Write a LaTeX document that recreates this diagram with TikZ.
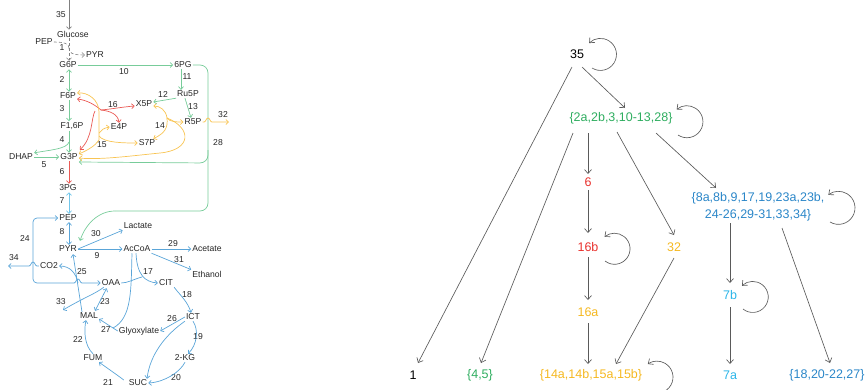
\documentclass[tikz,border=0pt]{standalone}
\usepackage{fontspec}
\setmainfont{Liberation Sans}
\usetikzlibrary{arrows.meta,calc}
\definecolor{lgreen}{HTML}{78CC9A}
\definecolor{lred}{HTML}{EA5A55}
\definecolor{lyel}{HTML}{F8C453}
\definecolor{lblue}{HTML}{5AA5D8}
\definecolor{lcyan}{HTML}{72C6EA}
\definecolor{lgrey}{HTML}{808080}
\definecolor{tgreen}{HTML}{2EAD5F}
\definecolor{tred}{HTML}{E8312D}
\definecolor{tyel}{HTML}{F5B820}
\definecolor{tblue}{HTML}{2A86C8}
\definecolor{tcyan}{HTML}{2BB5E8}
\definecolor{tedge}{HTML}{5A5A5A}
\tikzset{
  gy/.style={draw=lgrey,line width=0.6pt},
  gr/.style={draw=lgreen,line width=0.7pt},
  rd/.style={draw=lred,line width=0.7pt},
  yl/.style={draw=lyel,line width=0.7pt},
  bl/.style={draw=lblue,line width=0.7pt},
  cy/.style={draw=lcyan,line width=0.7pt},
  tn/.style={font=\fontsize{12.5}{16.5}\selectfont, inner sep=2pt, align=center},
  te/.style={draw=tedge, line width=0.65pt, ->},
}
\begin{document}
\begin{tikzpicture}[x=1pt,y=-1pt]
\useasboundingbox (0,0) rectangle (865,389);
\begin{scope}[>={Straight Barb[length=2.6pt,width=5pt]}, every node/.style={inner sep=1pt,font=\fontsize{8.6}{10}\selectfont,text=black!85}]
\node (glc) at (73,34) {Glucose};
\node (pep0) at (44,42) {PEP};
\node (l1) at (62,48) {1};
\node (pyr0) at (95,55) {PYR};
\node (l35) at (61,15) {35};
\node (g6p) at (68,65) {G6P};
\node (l10) at (124,72) {10};
\node (pg6) at (183,65) {6PG};
\node (l2) at (62,79) {2};
\node (f6p) at (68,96) {F6P};
\node (l3) at (62,109) {3};
\node (f16p) at (72,126) {F1,6P};
\node (l11) at (187,77) {11};
\node (ru5p) at (188,94) {Ru5P};
\node (l12) at (163,94) {12};
\node (x5p) at (144,104) {X5P};
\node (l13) at (193,107) {13};
\node (r5p) at (193,122) {R5P};
\node (l32) at (223,115) {32};
\node (l16) at (113,105) {16};
\node (e4p) at (119,127) {E4P};
\node (l14) at (160,126) {14};
\node (l4) at (62,140) {4};
\node (dhap) at (21,157) {DHAP};
\node (l5) at (44,165) {5};
\node (g3p) at (69,157) {G3P};
\node (l15) at (102,145) {15};
\node (s7p) at (147,143) {S7P};
\node (l28) at (218,143) {28};
\node (l6) at (62,172) {6};
\node (pg3) at (68,188) {3PG};
\node (l7) at (62,201) {7};
\node (pep1) at (68,218) {PEP};
\node (lac) at (138,226) {Lactate};
\node (l30) at (96,234) {30};
\node (l8) at (62,232) {8};
\node (l24) at (25,238) {24};
\node (pyr1) at (68,249) {PYR};
\node (l9) at (97,256) {9};
\node (accoa) at (137,249) {AcCoA};
\node (l29) at (173,244) {29};
\node (ace) at (207,249) {Acetate};
\node (l31) at (179,260) {31};
\node (eth) at (207,274) {Ethanol};
\node (l34) at (14,258) {34};
\node (co2) at (49,266) {CO2};
\node (l25) at (82,272) {25};
\node (l17) at (148,272) {17};
\node (oaa) at (111,283) {OAA};
\node (cit) at (166,283) {CIT};
\node (l18) at (187,295) {18};
\node (l33) at (61,302) {33};
\node (l23) at (105,302) {23};
\node (mal) at (89,316) {MAL};
\node (ict) at (193,317) {ICT};
\node (l26) at (172,319) {26};
\node (glx) at (139,331) {Glyoxylate};
\node (l27) at (106,329) {27};
\node (l19) at (198,337) {19};
\node (l22) at (78,339) {22};
\node (fum) at (93,358) {FUM};
\node (akg) at (185,358) {2-KG};
\node (l21) at (108,382) {21};
\node (suc) at (138,383) {SUC};
\node (l20) at (176,378) {20};
% grey
\coordinate (top35) at (69,0);
\coordinate (j1) at (69,48);
\draw[gy,->] (top35) -- (top35 |- glc.north);
\draw[gy,densely dashed,->] (glc.south -| top35) -- (g6p.north -| top35);
\draw[gy,densely dashed] (pep0.east) .. controls (65,42) and (69,44) .. (j1);
\draw[gy,densely dashed,->] (j1) .. controls (69,53) and (72,55) .. (pyr0.west);
% green
\draw[gr,<->] (g6p.south -| top35) -- (f6p.north -| top35);
\draw[gr,->] (f6p.south -| top35) -- (f16p.north -| top35);
\draw[gr,->] (g6p.east) -- (pg6.west);
\draw[gr,->] ([shift={(-2,0)}]pg6.south) -- ([shift={(-7,0)}]ru5p.north);
\draw[gr,->] (ru5p.south west) -- ([shift={(0,-2)}]x5p.east);
\draw[gr,->] ([shift={(-3,0)}]ru5p.south) -- ([shift={(-2,0)}]r5p.north);
\draw[gr,->] (f16p.south -| top35) -- (g3p.north -| top35);
\coordinate (j4) at (69,142);
\draw[gr,->] (j4) .. controls (67,149) and (50,150) .. (dhap.north east);
\draw[gr,->] (dhap.east) -- (g3p.west);
\coordinate (c28) at (115,211);
\coordinate (b28) at (208,150);
\draw[gr,rounded corners=8] (pg6.east) -- (208,65) -- (208,211) -- (c28);
\draw[gr,->] (c28) .. controls (98,211) and (85,225) .. ([shift={(2,-4)}]pyr1.north east);
\draw[gr,->,rounded corners=8] (b28) -- (208,163) -- ([shift={(0,5)}]g3p.east);
% red
\coordinate (r16) at (101,110);
\coordinate (r16d) at (95,111);
\draw[rd,->] (r16) .. controls (94,104) and (86,100) .. ([shift={(0,3)}]f6p.east);
\draw[rd,->] (r16) .. controls (112,109) and (122,107) .. ([shift={(0,2)}]x5p.west);
\draw[rd,->] (r16) .. controls (110,111) and (118,114) .. (e4p.north);
\draw[rd,->] (r16d) .. controls (91,118) and (93,138) .. ([shift={(1,-3)}]g3p.north east);
\draw[rd,->] (g3p.south -| top35) -- (pg3.north -| top35);
% yellow
\coordinate (yb) at (99,140);
\coordinate (ye) at (99,133);
\coordinate (ys) at (99,136);
\draw[yl,->] (yb) -- (99,112) .. controls (99,100) and (88,92) .. ([shift={(0,-3)}]f6p.east);
\draw[yl,->] (yb) .. controls (95,146) and (88,150) .. ([shift={(0,-3)}]g3p.east);
\draw[yl,->] (ye) .. controls (101,130) and (104,128) .. (e4p.west);
\draw[yl,->] (ys) .. controls (104,143) and (125,143) .. (s7p.west);
\coordinate (y14) at (167,118);
\draw[yl,->] (y14) .. controls (166,110) and (160,106) .. ([shift={(0,2)}]x5p.east);
\draw[yl,->] (y14) .. controls (170,122) and (176,122) .. (r5p.west);
\draw[yl,->] (y14) .. controls (168,128) and (165,133) .. ([shift={(-3,0)}]s7p.north east);
\draw[yl,->] (y14) .. controls (192,128) and (192,150) .. (160,153) .. controls (130,156) and (100,160) .. ([shift={(0,1)}]g3p.east);
\coordinate (e32) at (229,122);
\draw[yl,->] (r5p.east) -- (204,122) .. controls (206,122) and (206,118) .. (208,118) .. controls (210,118) and (210,122) .. (212,122) -- (e32);
% blue
\draw[cy,<->] (pg3.south -| top35) -- (pep1.north -| top35);
\draw[bl,<->] (pep1.south -| top35) -- (pyr1.north -| top35);
\draw[bl,->] (pyr1.east) -- (lac.south west);
\draw[bl,->] (pyr1.east) -- (accoa.west);
\draw[bl,->] (accoa.east) -- (ace.west);
\draw[bl,->] (accoa.south east) -- (eth.north west);
\coordinate (h24) at (74,283);
\draw[bl,->,rounded corners=4] (h24) -- (33,283) -- (33,218) -- (pep1.west);
\draw[bl,->] (h24) .. controls (76,283) and (76,279) .. (78,279) .. controls (80,279) and (80,283) .. (82,283) -- (oaa.west);
\coordinate (e34) at (8,266);
\draw[bl,->] (co2.west) -- (37,266) .. controls (35,266) and (35,262) .. (33,262) .. controls (31,262) and (31,266) .. (29,266) -- (e34);
\coordinate (j25) at (78,283);
\draw[bl,->] ([shift={(-7,0)}]mal.north) -- ([shift={(5,1)}]pyr1.south);
\draw[bl,->] (j25) .. controls (76,273) and (70,266) .. (co2.east);
\draw[bl,<->] ([shift={(-4,-1)}]mal.north east) -- ([shift={(6,1)}]oaa.south west);
\coordinate (e33) at (63,310);
\draw[bl,->] ([shift={(3,0)}]oaa.south west) .. controls (95,294) and (85,297) .. (e33);
\coordinate (j17) at (142,277);
\draw[bl,->] ([shift={(-1,0)}]accoa.south) .. controls (137,275) and (145,282) .. (cit.west);
\draw[bl] (oaa.east) .. controls (128,283) and (134,279) .. (j17);
\coordinate (j27) at (113,328);
\draw[bl] ([shift={(-5,0)}]accoa.south) .. controls (131,290) and (132,318) .. (j27);
\draw[bl,->] (glx.west) -- ([shift={(0,3)}]mal.east);
\draw[bl,->] (cit.south east) .. controls (180,295) and (188,302) .. ([shift={(-2,0)}]ict.north);
\draw[bl,->] (ict.south) .. controls (199,330) and (197,345) .. ([shift={(3,0)}]akg.north);
\draw[bl,->] (akg.south) .. controls (180,372) and (165,382) .. (suc.east);
\draw[bl,->] ([shift={(-4,-3)}]suc.west) .. controls (120,377) and (110,370) .. ([shift={(6,0)}]fum.south);
\draw[bl,->] (fum.north) .. controls (84,345) and (84,330) .. ([shift={(-3,0)}]mal.south);
\draw[bl,->] (ict.west) -- (glx.east);
\draw[bl,->] (ict.south west) .. controls (165,335) and (150,355) .. ([shift={(9,0)}]suc.north);
\end{scope}
% ---------- right tree ----------
\begin{scope}[>={Straight Barb[length=4pt,width=7pt]}]
\node[tn,text=black] (t35) at (577,54) {35};
\node[tn,text=tgreen] (tA) at (621,118) {\{2a,2b,3,10-13,28\}};
\node[tn,text=black] (t1) at (413,375) {1};
\node[tn,text=tgreen] (t45) at (480,375) {\{4,5\}};
\node[tn,text=tred] (t6) at (588,182) {6};
\node[tn,text=tred] (t16b) at (588,247) {16b};
\node[tn,text=tyel] (t16a) at (588,312) {16a};
\node[tn,text=tyel] (t14) at (591,375) {\{14a,14b,15a,15b\}};
\node[tn,text=tyel] (t32) at (674,247) {32};
\node[tn,text=tblue] (tB) at (758,207) {\{8a,8b,9,17,19,23a,23b,\\24-26,29-31,33,34\}};
\node[tn,text=tcyan] (t7b) at (730,295) {7b};
\node[tn,text=tcyan] (t7a) at (730,375) {7a};
\node[tn,text=tblue] (t18) at (827,375) {\{18,20-22,27\}};
\draw[te] ([shift={(5,13)}]t35.center) -- ([shift={(4,-10)}]tA.center);
\draw[te] ([shift={(-5,13)}]t35.center) -- ([shift={(5,-12)}]t1.center);
\draw[te] ([shift={(-48,15)}]tA.center) -- ([shift={(1,-12)}]t45.center);
\draw[te] ([shift={(-33,15)}]tA.center) -- ([shift={(0,-8)}]t6.center);
\draw[te] ([shift={(-4,14)}]tA.center) -- ([shift={(0,-12)}]t32.center);
\draw[te] ([shift={(35,15)}]tA.center) -- ([shift={(-42,-19)}]tB.center);
\draw[te] ([shift={(0,8)}]t6.center) -- ([shift={(0,-14)}]t16b.center);
\draw[te] ([shift={(0,10)}]t16b.center) -- ([shift={(0,-12)}]t16a.center);
\draw[te] ([shift={(0,11)}]t16a.center) -- ([shift={(-3,-11)}]t14.center);
\draw[te] ([shift={(0,11)}]t32.center) -- ([shift={(25,-11)}]t14.center);
\draw[te] ([shift={(-28,16)}]tB.center) -- ([shift={(0,-12)}]t7b.center);
\draw[te] ([shift={(0,12)}]t7b.center) -- ([shift={(0,-11)}]t7a.center);
\draw[te] ([shift={(24,21)}]tB.center) -- ([shift={(3,-12)}]t18.center);
% self loops
\draw[te] ([shift={(15,14)}]t35.center) arc[start angle=122, end angle=-135, radius=16];
\draw[te] ([shift={(57,17)}]tA.center) arc[start angle=124, end angle=-130, radius=16];
\draw[te] ([shift={(72,15)}]tB.center) arc[start angle=121, end angle=-128, radius=16.5];
\draw[te] ([shift={(17,14)}]t16b.center) arc[start angle=128, end angle=-130, radius=15.5];
\draw[te] ([shift={(13,14)}]t7b.center) arc[start angle=129, end angle=-134, radius=15.5];
\draw[te] ([shift={(58,16)}]t14.center) arc[start angle=120, end angle=-125, radius=16];
\end{scope}
\end{tikzpicture}
\end{document}
